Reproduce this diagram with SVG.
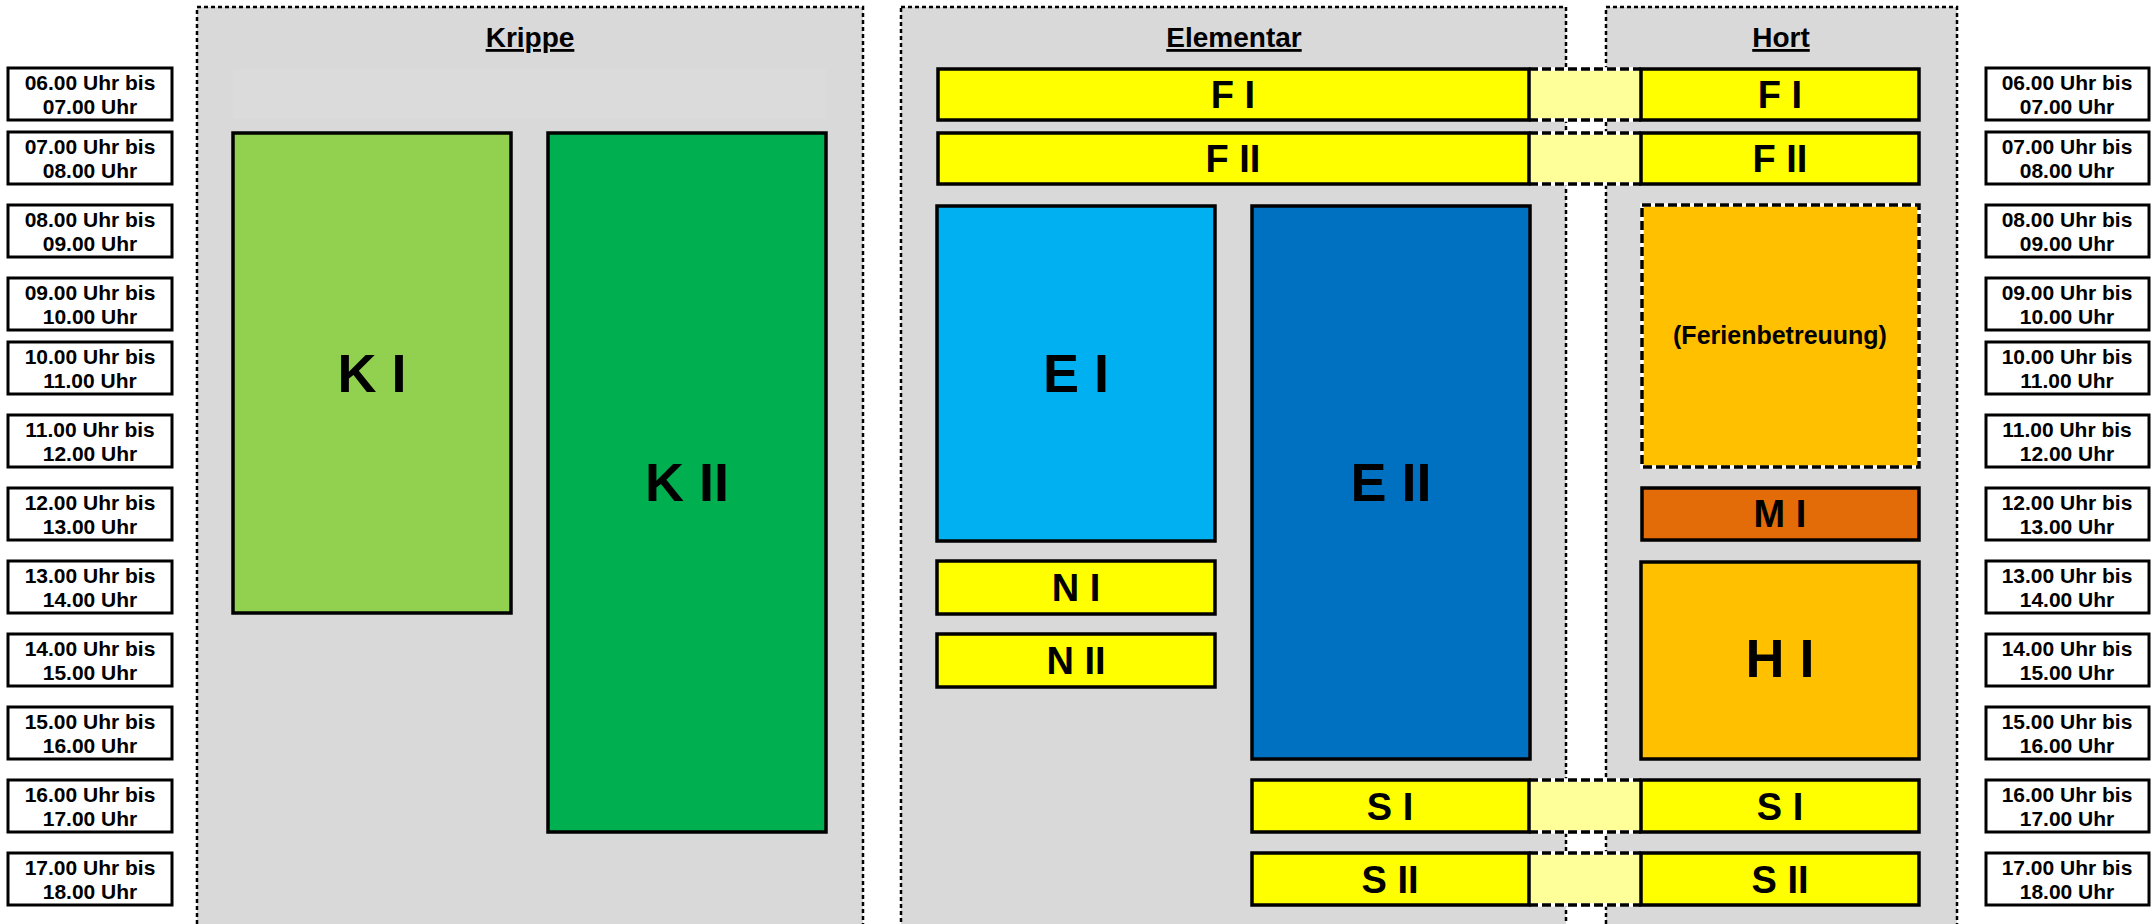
<svg xmlns="http://www.w3.org/2000/svg" width="2152" height="924" viewBox="0 0 2152 924">
<style>
text{font-family:"Liberation Sans",Arial,Helvetica,sans-serif;font-weight:bold;fill:#000;text-anchor:middle}
.panel{fill:#d9d9d9;stroke:#000;stroke-width:2.5;stroke-dasharray:4 3}
.panelw{fill:none;stroke:#fff;stroke-width:2.5}
.tbox{fill:#fff;stroke:#000;stroke-width:3}
.tl{font-size:21px}
.title{font-size:28px;text-decoration:underline}
.n{stroke:#000;stroke-width:3.5}
.mid{font-size:38px}
.big{font-size:54px}
.dashw{fill:none;stroke:#fff;stroke-width:3.5}
.dash{fill:none;stroke:#000;stroke-width:3.5;stroke-dasharray:9 4}
.yel{fill:#ffff00}
.conn{fill:#ffff99}
</style>
<rect width="2152" height="924" fill="#fff"/>
<g id="panels">
<g id="panel-krippe"><rect class="panelw" x="197" y="7" width="666" height="930"/><rect class="panel" x="197" y="7" width="666" height="930"/><text class="title" x="530" y="47">Krippe</text></g>
<g id="panel-elementar"><rect class="panelw" x="901" y="7" width="665" height="930"/><rect class="panel" x="901" y="7" width="665" height="930"/><text class="title" x="1234" y="47">Elementar</text></g>
<g id="panel-hort"><rect class="panelw" x="1606" y="7" width="351" height="930"/><rect class="panel" x="1606" y="7" width="351" height="930"/><text class="title" x="1781" y="47">Hort</text></g>
</g>
<rect x="233" y="69" width="593" height="50" fill="#dbdbdb"/>
<g id="connectors">
<g id="c-f1"><rect class="conn" x="1529" y="69" width="112" height="51"/><line class="dashw" x1="1529" y1="69" x2="1641" y2="69"/><line class="dash" x1="1529" y1="69" x2="1641" y2="69"/><line class="dashw" x1="1529" y1="120" x2="1641" y2="120"/><line class="dash" x1="1529" y1="120" x2="1641" y2="120"/></g>
<g id="c-f2"><rect class="conn" x="1529" y="133" width="112" height="51"/><line class="dashw" x1="1529" y1="133" x2="1641" y2="133"/><line class="dash" x1="1529" y1="133" x2="1641" y2="133"/><line class="dashw" x1="1529" y1="184" x2="1641" y2="184"/><line class="dash" x1="1529" y1="184" x2="1641" y2="184"/></g>
<g id="c-s1"><rect class="conn" x="1529" y="780" width="112" height="52"/><line class="dashw" x1="1529" y1="780" x2="1641" y2="780"/><line class="dash" x1="1529" y1="780" x2="1641" y2="780"/><line class="dashw" x1="1529" y1="832" x2="1641" y2="832"/><line class="dash" x1="1529" y1="832" x2="1641" y2="832"/></g>
<g id="c-s2"><rect class="conn" x="1529" y="853" width="112" height="52"/><line class="dashw" x1="1529" y1="853" x2="1641" y2="853"/><line class="dash" x1="1529" y1="853" x2="1641" y2="853"/><line class="dashw" x1="1529" y1="905" x2="1641" y2="905"/><line class="dash" x1="1529" y1="905" x2="1641" y2="905"/></g>
</g>
<g id="k1"><rect class="n" x="233" y="133" width="278" height="480" fill="#92d050"/><text class="big" x="372" y="392">K I</text></g>
<g id="k2"><rect class="n" x="548" y="133" width="278" height="699" fill="#00b050"/><text class="big" x="687" y="501">K II</text></g>
<g id="ef1"><rect class="n yel" x="938" y="69" width="591" height="51"/><text class="mid" x="1233" y="108">F I</text></g>
<g id="ef2"><rect class="n yel" x="938" y="133" width="591" height="51"/><text class="mid" x="1233" y="172">F II</text></g>
<g id="e1"><rect class="n" x="937" y="206" width="278" height="335" fill="#00b0f0"/><text class="big" x="1076" y="392">E I</text></g>
<g id="e2"><rect class="n" x="1252" y="206" width="278" height="553" fill="#0070c0"/><text class="big" x="1391" y="501">E II</text></g>
<g id="n1"><rect class="n yel" x="937" y="561" width="278" height="53"/><text class="mid" x="1076" y="601">N I</text></g>
<g id="n2"><rect class="n yel" x="937" y="634" width="278" height="53"/><text class="mid" x="1076" y="674">N II</text></g>
<g id="es1"><rect class="n yel" x="1252" y="780" width="277" height="52"/><text class="mid" x="1390" y="820">S I</text></g>
<g id="es2"><rect class="n yel" x="1252" y="853" width="277" height="52"/><text class="mid" x="1390" y="893">S II</text></g>
<g id="hf1"><rect class="n yel" x="1641" y="69" width="278" height="51"/><text class="mid" x="1780" y="108">F I</text></g>
<g id="hf2"><rect class="n yel" x="1641" y="133" width="278" height="51"/><text class="mid" x="1780" y="172">F II</text></g>
<g id="ferien"><rect x="1642" y="205" width="277" height="262" fill="#ffc000"/><rect class="dashw" x="1642" y="205" width="277" height="262"/><rect class="dash" x="1642" y="205" width="277" height="262"/><text x="1780" y="344" font-size="25">(Ferienbetreuung)</text></g>
<g id="m1"><rect class="n" x="1642" y="488" width="277" height="52" fill="#e36c09"/><text class="mid" x="1780" y="527">M I</text></g>
<g id="h1"><rect class="n" x="1641" y="562" width="278" height="197" fill="#ffc000"/><text class="big" x="1780" y="677">H I</text></g>
<g id="hs1"><rect class="n yel" x="1641" y="780" width="278" height="52"/><text class="mid" x="1780" y="820">S I</text></g>
<g id="hs2"><rect class="n yel" x="1641" y="853" width="278" height="52"/><text class="mid" x="1780" y="893">S II</text></g>
<g id="times-left">
<g id="tl1"><rect class="tbox" x="8" y="68" width="164" height="52"/><text class="tl" x="90" y="90">06.00 Uhr bis</text><text class="tl" x="90" y="114">07.00 Uhr</text></g>
<g id="tl2"><rect class="tbox" x="8" y="132" width="164" height="52"/><text class="tl" x="90" y="154">07.00 Uhr bis</text><text class="tl" x="90" y="178">08.00 Uhr</text></g>
<g id="tl3"><rect class="tbox" x="8" y="205" width="164" height="52"/><text class="tl" x="90" y="227">08.00 Uhr bis</text><text class="tl" x="90" y="251">09.00 Uhr</text></g>
<g id="tl4"><rect class="tbox" x="8" y="278" width="164" height="52"/><text class="tl" x="90" y="300">09.00 Uhr bis</text><text class="tl" x="90" y="324">10.00 Uhr</text></g>
<g id="tl5"><rect class="tbox" x="8" y="342" width="164" height="52"/><text class="tl" x="90" y="364">10.00 Uhr bis</text><text class="tl" x="90" y="388">11.00 Uhr</text></g>
<g id="tl6"><rect class="tbox" x="8" y="415" width="164" height="52"/><text class="tl" x="90" y="437">11.00 Uhr bis</text><text class="tl" x="90" y="461">12.00 Uhr</text></g>
<g id="tl7"><rect class="tbox" x="8" y="488" width="164" height="52"/><text class="tl" x="90" y="510">12.00 Uhr bis</text><text class="tl" x="90" y="534">13.00 Uhr</text></g>
<g id="tl8"><rect class="tbox" x="8" y="561" width="164" height="52"/><text class="tl" x="90" y="583">13.00 Uhr bis</text><text class="tl" x="90" y="607">14.00 Uhr</text></g>
<g id="tl9"><rect class="tbox" x="8" y="634" width="164" height="52"/><text class="tl" x="90" y="656">14.00 Uhr bis</text><text class="tl" x="90" y="680">15.00 Uhr</text></g>
<g id="tl10"><rect class="tbox" x="8" y="707" width="164" height="52"/><text class="tl" x="90" y="729">15.00 Uhr bis</text><text class="tl" x="90" y="753">16.00 Uhr</text></g>
<g id="tl11"><rect class="tbox" x="8" y="780" width="164" height="52"/><text class="tl" x="90" y="802">16.00 Uhr bis</text><text class="tl" x="90" y="826">17.00 Uhr</text></g>
<g id="tl12"><rect class="tbox" x="8" y="853" width="164" height="52"/><text class="tl" x="90" y="875">17.00 Uhr bis</text><text class="tl" x="90" y="899">18.00 Uhr</text></g>
</g>
<g id="times-right">
<g id="tr1"><rect class="tbox" x="1986" y="68" width="163" height="52"/><text class="tl" x="2067" y="90">06.00 Uhr bis</text><text class="tl" x="2067" y="114">07.00 Uhr</text></g>
<g id="tr2"><rect class="tbox" x="1986" y="132" width="163" height="52"/><text class="tl" x="2067" y="154">07.00 Uhr bis</text><text class="tl" x="2067" y="178">08.00 Uhr</text></g>
<g id="tr3"><rect class="tbox" x="1986" y="205" width="163" height="52"/><text class="tl" x="2067" y="227">08.00 Uhr bis</text><text class="tl" x="2067" y="251">09.00 Uhr</text></g>
<g id="tr4"><rect class="tbox" x="1986" y="278" width="163" height="52"/><text class="tl" x="2067" y="300">09.00 Uhr bis</text><text class="tl" x="2067" y="324">10.00 Uhr</text></g>
<g id="tr5"><rect class="tbox" x="1986" y="342" width="163" height="52"/><text class="tl" x="2067" y="364">10.00 Uhr bis</text><text class="tl" x="2067" y="388">11.00 Uhr</text></g>
<g id="tr6"><rect class="tbox" x="1986" y="415" width="163" height="52"/><text class="tl" x="2067" y="437">11.00 Uhr bis</text><text class="tl" x="2067" y="461">12.00 Uhr</text></g>
<g id="tr7"><rect class="tbox" x="1986" y="488" width="163" height="52"/><text class="tl" x="2067" y="510">12.00 Uhr bis</text><text class="tl" x="2067" y="534">13.00 Uhr</text></g>
<g id="tr8"><rect class="tbox" x="1986" y="561" width="163" height="52"/><text class="tl" x="2067" y="583">13.00 Uhr bis</text><text class="tl" x="2067" y="607">14.00 Uhr</text></g>
<g id="tr9"><rect class="tbox" x="1986" y="634" width="163" height="52"/><text class="tl" x="2067" y="656">14.00 Uhr bis</text><text class="tl" x="2067" y="680">15.00 Uhr</text></g>
<g id="tr10"><rect class="tbox" x="1986" y="707" width="163" height="52"/><text class="tl" x="2067" y="729">15.00 Uhr bis</text><text class="tl" x="2067" y="753">16.00 Uhr</text></g>
<g id="tr11"><rect class="tbox" x="1986" y="780" width="163" height="52"/><text class="tl" x="2067" y="802">16.00 Uhr bis</text><text class="tl" x="2067" y="826">17.00 Uhr</text></g>
<g id="tr12"><rect class="tbox" x="1986" y="853" width="163" height="52"/><text class="tl" x="2067" y="875">17.00 Uhr bis</text><text class="tl" x="2067" y="899">18.00 Uhr</text></g>
</g>
</svg>
